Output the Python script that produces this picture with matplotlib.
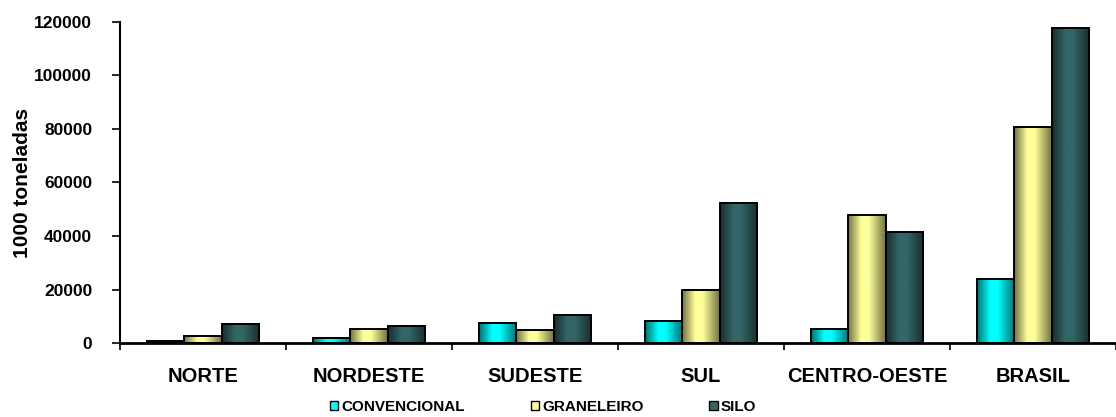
import matplotlib
matplotlib.use("Agg")
import matplotlib.pyplot as plt
import numpy as np
from matplotlib.colors import LinearSegmentedColormap, to_rgb
from matplotlib.patches import Patch

regioes = ["NORTE", "NORDESTE", "SUDESTE", "SUL", "CENTRO-OESTE", "BRASIL"]
series = ["CONVENCIONAL", "GRANELEIRO", "SILO"]
convencional = [900, 1900, 7500, 8300, 5200, 23900]
graneleiro = [2500, 5100, 5000, 19700, 47800, 80800]
silo = [7200, 6500, 10300, 52400, 41400, 117600]
yticks = [0, 20000, 40000, 60000, 80000, 100000, 120000]

cores = ["#00FFFF", "#FFFF99", "#336666"]

plt.rcParams["font.family"] = ["Liberation Sans", "DejaVu Sans"]
plt.rcParams["font.weight"] = "bold"


def mapa_gradiente(cor):
    r, g, b = to_rgb(cor)
    escuro = (r * 0.45, g * 0.45, b * 0.45)
    return LinearSegmentedColormap.from_list(
        "g", [(0, escuro), (0.35, (r, g, b)), (0.55, (r, g, b)), (1, escuro)])


fig = plt.figure(figsize=(11.16, 4.17), dpi=100)
ax = fig.add_axes([120 / 1116, 74 / 417, 996 / 1116, 321 / 417])

x = np.arange(len(regioes))
larg = 0.225
gradiente = np.linspace(0, 1, 64).reshape(1, -1)

for k, (vals, cor) in enumerate(zip([convencional, graneleiro, silo], cores)):
    barras = ax.bar(x + (k - 1) * larg, vals, larg, color="none",
                    edgecolor="black", linewidth=1.4, zorder=3)
    cmap = mapa_gradiente(cor)
    for b in barras:
        x0, w, h = b.get_x(), b.get_width(), b.get_height()
        ax.imshow(gradiente, extent=[x0, x0 + w, 0, h], aspect="auto",
                  cmap=cmap, zorder=2, interpolation="bilinear")

ax.set_xlim(-0.5, 5.446)
ax.set_ylim(0, 120000)
ax.set_yticks(yticks)
ax.set_yticklabels([str(v) for v in yticks], fontsize=12.5, fontweight="bold")
ax.set_xticks(x)
ax.set_xticklabels(regioes, fontsize=14.5, fontweight="bold")
ax.set_xticks(np.arange(-0.5, 6, 1), minor=True)
ax.tick_params(axis="x", which="major", length=0, pad=17)
ax.tick_params(axis="x", which="minor", length=5, width=1.2, direction="out")
ax.tick_params(axis="y", length=6, width=1.2, direction="out", pad=14)

for lado in ["top", "right"]:
    ax.spines[lado].set_visible(False)
ax.spines["left"].set_linewidth(1.5)
ax.spines["bottom"].set_linewidth(2)

ax.set_ylabel("1000 toneladas", fontsize=15, fontweight="bold")
ax.yaxis.set_label_coords(-0.088, 0.5)

handles = [Patch(facecolor=c, edgecolor="black", linewidth=1) for c in cores]
fig.legend(handles, series, loc="center", bbox_to_anchor=(543 / 1116, 1 - 407 / 417),
           ncol=3, frameon=False, handlelength=0.55, handleheight=0.55,
           handletextpad=0.2, columnspacing=4.3, prop={"weight": "bold", "size": 11})

fig.savefig("out.png", dpi=100)
